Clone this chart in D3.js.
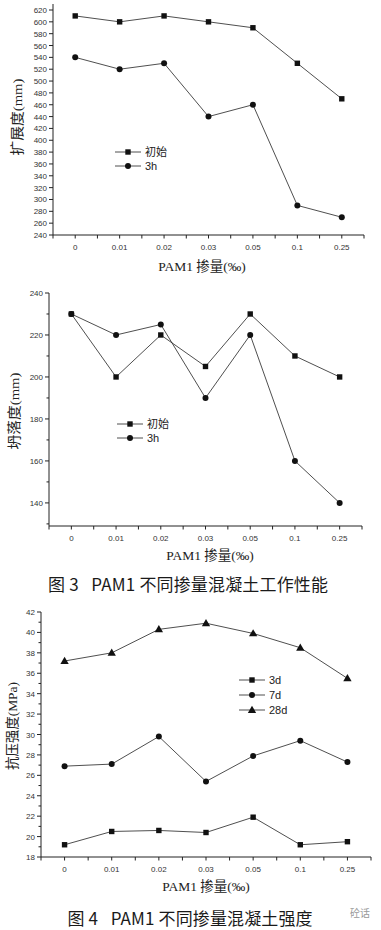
<!DOCTYPE html>
<html lang="zh">
<head>
<meta charset="UTF-8">
<title>PAM1 掺量</title>
<script src="https://d3js.org/d3.v7.min.js"></script>
<style>
  body { margin: 0; background: #fff; }
  svg { display: block; }
  .tick-label { font-family: "Liberation Sans", Arial, sans-serif; font-size: 8px; fill: #333; }
  .axis-title { font-family: "Liberation Serif", "Noto Sans CJK SC", serif; font-size: 13.5px; fill: #222; }
  .legend-text { font-family: "Liberation Sans", "Noto Sans CJK SC", sans-serif; font-size: 11px; fill: #222; }
  .caption { font-family: "Noto Sans CJK SC", sans-serif; font-size: 17px; font-weight: 400; fill: #1a1a1a; }
  .series-line { fill: none; stroke: #222; stroke-width: 0.8; }
  .axis-line { stroke: #222; stroke-width: 1; fill: none; }
</style>
</head>
<body>
<svg id="chart" width="381" height="930"></svg>
<script>
// shared categories
const dosage = ["0", "0.01", "0.02", "0.03", "0.05", "0.1", "0.25"];

// fig 3a spread (mm)
const spreadInitial = [610, 600, 610, 600, 590, 530, 470];
const spread3h = [540, 520, 530, 440, 460, 290, 270];

// fig 3b slump (mm)
const slumpInitial = [230, 200, 220, 205, 230, 210, 200];
const slump3h = [230, 220, 225, 190, 220, 160, 140];

// fig 4 compressive strength (MPa)
const strength3d = [19.2, 20.5, 20.6, 20.4, 21.9, 19.2, 19.5];
const strength7d = [26.9, 27.1, 29.8, 25.4, 27.9, 29.4, 27.3];
const strength28d = [37.2, 38.0, 40.3, 40.9, 39.9, 38.5, 35.5];

const svg = d3.select("#chart");

function marker(g, shape, x, y) {
    if (shape === "square") {
        g.append("rect").attr("x", x - 2.7).attr("y", y - 2.7)
            .attr("width", 5.4).attr("height", 5.4).attr("fill", "#111");
    } else if (shape === "circle") {
        g.append("circle").attr("cx", x).attr("cy", y).attr("r", 3).attr("fill", "#111");
    } else {
        g.append("path").attr("d", d3.symbol(d3.symbolTriangle, 30)())
            .attr("transform", `translate(${x},${y + 0.5})`).attr("fill", "#111");
    }
}

function drawChart(cfg) {
    const g = svg.append("g");
    const x = d3.scalePoint().domain(dosage).range([cfg.left, cfg.right]).padding(0.5);
    const y = d3.scaleLinear().domain(cfg.yDomain).range([cfg.bottom, cfg.top]);

    // axes lines
    g.append("line").attr("class", "axis-line")
        .attr("x1", cfg.left).attr("x2", cfg.left)
        .attr("y1", cfg.axisTop).attr("y2", cfg.bottom);
    g.append("line").attr("class", "axis-line")
        .attr("x1", cfg.left).attr("x2", cfg.right)
        .attr("y1", cfg.bottom).attr("y2", cfg.bottom);

    // y ticks
    const major = d3.range(cfg.yMajor[0], cfg.yMajor[1] + 0.001, cfg.yMajor[2]);
    major.forEach(v => {
        g.append("line").attr("class", "axis-line")
            .attr("x1", cfg.left - 4).attr("x2", cfg.left)
            .attr("y1", y(v)).attr("y2", y(v));
        g.append("text").attr("class", "tick-label")
            .attr("x", cfg.left - 6).attr("y", y(v) + 3)
            .attr("text-anchor", "end").text(v);
    });
    if (cfg.yMinor) {
        d3.range(cfg.yMinor[0], cfg.yMinor[1] + 0.001, cfg.yMinor[2]).forEach(v => {
            g.append("line").attr("class", "axis-line")
                .attr("x1", cfg.left - 2.5).attr("x2", cfg.left)
                .attr("y1", y(v)).attr("y2", y(v));
        });
    }

    // x ticks: at categories and between
    const step = x.step();
    for (let i = 0; i <= dosage.length * 2; i++) {
        const px = cfg.left + i * step / 2;
        g.append("line").attr("class", "axis-line")
            .attr("x1", px).attr("x2", px)
            .attr("y1", cfg.bottom).attr("y2", cfg.bottom + 3.5);
    }
    dosage.forEach(d => {
        g.append("text").attr("class", "tick-label")
            .attr("x", x(d)).attr("y", cfg.bottom + 15)
            .attr("text-anchor", "middle").text(d);
    });

    // titles
    g.append("text").attr("class", "axis-title")
        .attr("x", cfg.xTitleX).attr("y", cfg.xTitleY)
        .attr("text-anchor", "middle").text("PAM1 掺量(‰)");
    g.append("text").attr("class", "axis-title")
        .attr("transform", `translate(${cfg.yTitleX},${cfg.yTitleY}) rotate(-90)`)
        .attr("text-anchor", "middle")
        .attr("textLength", cfg.yTitleLen).attr("lengthAdjust", "spacingAndGlyphs")
        .text(cfg.yTitle);

    // series
    const line = d3.line().x((d, i) => x(dosage[i])).y(d => y(d));
    cfg.series.forEach(s => {
        g.append("path").attr("class", "series-line").attr("d", line(s.values));
        s.values.forEach((v, i) => marker(g, s.shape, x(dosage[i]), y(v)));
    });

    // legend
    cfg.series.forEach((s, i) => {
        const ly = cfg.legendY + i * cfg.legendGap;
        g.append("line").attr("stroke", "#222").attr("stroke-width", 0.8)
            .attr("x1", cfg.legendX).attr("x2", cfg.legendX + 26)
            .attr("y1", ly).attr("y2", ly);
        marker(g, s.shape, cfg.legendX + 13, ly);
        g.append("text").attr("class", "legend-text")
            .attr("x", cfg.legendX + 30).attr("y", ly + 4).text(s.name);
    });
}

drawChart({
    left: 53, right: 364, top: 10, bottom: 235, axisTop: 4,
    yDomain: [240, 620], yMajor: [240, 620, 20],
    xTitleX: 202, xTitleY: 271,
    yTitle: "扩展度(mm)", yTitleX: 22, yTitleY: 117, yTitleLen: 77,
    legendX: 115, legendY: 152, legendGap: 14,
    series: [
        { name: "初始", shape: "square", values: spreadInitial },
        { name: "3h", shape: "circle", values: spread3h }
    ]
});

drawChart({
    left: 49, right: 362, top: 293, bottom: 526, axisTop: 293,
    yDomain: [129, 240], yMajor: [140, 240, 20], yMinor: [130, 230, 20],
    xTitleX: 210, xTitleY: 560,
    yTitle: "坍落度(mm)", yTitleX: 19, yTitleY: 411, yTitleLen: 77,
    legendX: 117, legendY: 424, legendGap: 14,
    series: [
        { name: "初始", shape: "square", values: slumpInitial },
        { name: "3h", shape: "circle", values: slump3h }
    ]
});

drawChart({
    left: 41, right: 371, top: 612, bottom: 857, axisTop: 612,
    yDomain: [18, 42], yMajor: [18, 42, 2], yMinor: [19, 41, 2],
    xTitleX: 206, xTitleY: 891,
    yTitle: "抗压强度(MPa)", yTitleX: 17, yTitleY: 726, yTitleLen: 88,
    legendX: 239, legendY: 680, legendGap: 15,
    series: [
        { name: "3d", shape: "square", values: strength3d },
        { name: "7d", shape: "circle", values: strength7d },
        { name: "28d", shape: "triangle", values: strength28d }
    ]
});

svg.append("text").attr("class", "caption")
    .attr("x", 188).attr("y", 591).attr("text-anchor", "middle")
    .attr("textLength", 280).attr("lengthAdjust", "spacing")
    .text("图 3\u2002 PAM1 不同掺量混凝土工作性能");
svg.append("text").attr("class", "caption")
    .attr("x", 190).attr("y", 925).attr("text-anchor", "middle")
    .attr("textLength", 245).attr("lengthAdjust", "spacing")
    .text("图 4\u2002 PAM1 不同掺量混凝土强度");
svg.append("text")
    .attr("x", 350).attr("y", 917)
    .attr("font-family", "Noto Sans CJK SC, sans-serif").attr("font-size", 10)
    .attr("fill", "#999").text("砼话");
</script>
</body>
</html>
